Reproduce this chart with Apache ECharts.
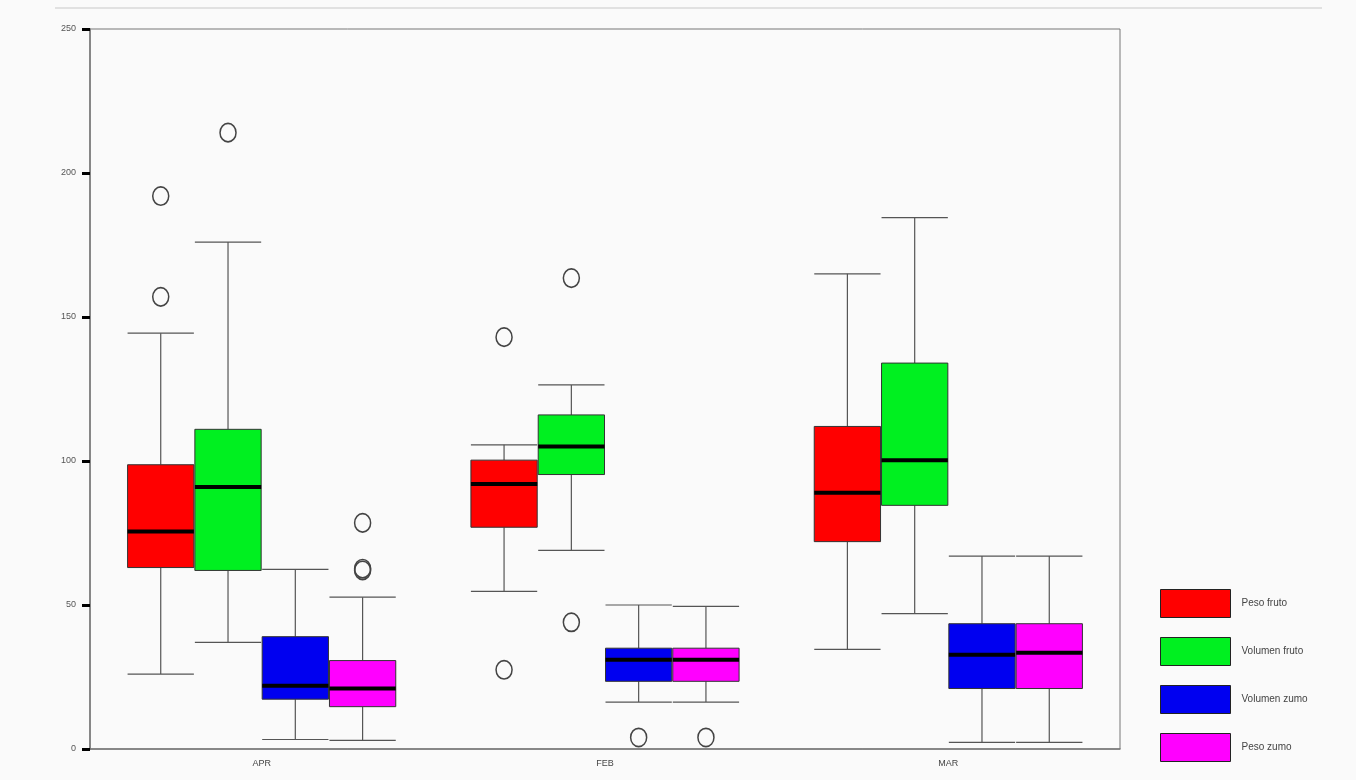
<!DOCTYPE html>
<html>
<head>
<meta charset="utf-8">
<script src="https://cdn.jsdelivr.net/npm/echarts@6/dist/echarts.min.js"></script>
<style>html,body{margin:0;padding:0;background:#fafafa}#c{width:1356px;height:780px}</style>
</head>
<body>
<div id="c"></div>
<script>
const categories = ['APR', 'FEB', 'MAR'];
const seriesNames = ['Peso fruto', 'Volumen fruto', 'Volumen zumo', 'Peso zumo'];
const seriesColors = ['#ff0000', '#00f020', '#0000f0', '#ff00ff'];
// [min, Q1, median, Q3, max]
const pesoFruto    = [[26, 63, 75.5, 98.7, 144.4], [54.7, 77, 92, 100.3, 105.6], [34.6, 72, 89, 112, 165]];
const volumenFruto = [[37, 62, 91, 111, 176], [69, 95.3, 105, 116, 126.4], [47, 84.6, 100.3, 134, 184.5]];
const volumenZumo  = [[3.3, 17.3, 22, 39, 62.4], [16.3, 23.5, 31, 35, 50], [2.3, 21, 32.7, 43.5, 67]];
const pesoZumo     = [[3, 14.7, 21, 30.7, 52.7], [16.3, 23.5, 31, 35, 49.5], [2.3, 21, 33.4, 43.5, 67]];
// outliers: [categoryIndex, value]
const pesoFrutoOut    = [[0, 192], [0, 157], [1, 143], [1, 27.5]];
const volumenFrutoOut = [[0, 214], [1, 163.5], [1, 44]];
const volumenZumoOut  = [[1, 4]];
const pesoZumoOut     = [[0, 78.5], [0, 62], [0, 62.6], [1, 4]];
const yTicks = [0, 50, 100, 150, 200, 250];

const boxData = [pesoFruto, volumenFruto, volumenZumo, pesoZumo];
const outData = [pesoFrutoOut, volumenFrutoOut, volumenZumoOut, pesoZumoOut];
const SLOT = 0.196;   // fraction of category band per box slot

function slotInfo(k, band) {
  const per = band * SLOT;
  return { off: -2 * per + per / 2 + k * per, w: per - 1 };
}

const series = [];
boxData.forEach((d, k) => {
  series.push({
    name: seriesNames[k],
    type: 'custom',
    data: d.map((b, i) => [i].concat(b)),
    encode: { x: 0, y: [1, 2, 3, 4, 5] },
    itemStyle: { color: seriesColors[k] },
    z: 2,
    silent: true,
    renderItem: function (params, api) {
      const band = api.size([1, 0])[0];
      const s = slotInfo(k, band);
      const c = api.value(0);
      const pMin = api.coord([c, api.value(1)]);
      const pQ1 = api.coord([c, api.value(2)]);
      const pMed = api.coord([c, api.value(3)]);
      const pQ3 = api.coord([c, api.value(4)]);
      const pMax = api.coord([c, api.value(5)]);
      const x = pMin[0] + s.off;
      const hw = s.w / 2;
      const capW = s.w * 0.5;
      const wl = { stroke: '#555', lineWidth: 1.2 };
      return {
        type: 'group',
        children: [
          { type: 'line', shape: { x1: x, y1: pMax[1], x2: x, y2: pQ3[1] }, style: wl },
          { type: 'line', shape: { x1: x, y1: pQ1[1], x2: x, y2: pMin[1] }, style: wl },
          { type: 'line', shape: { x1: x - capW, y1: pMax[1], x2: x + capW, y2: pMax[1] }, style: wl },
          { type: 'line', shape: { x1: x - capW, y1: pMin[1], x2: x + capW, y2: pMin[1] }, style: wl },
          { type: 'rect', shape: { x: x - hw, y: pQ3[1], width: s.w, height: pQ1[1] - pQ3[1] },
            style: { fill: seriesColors[k], stroke: '#333', lineWidth: 1 } },
          { type: 'line', shape: { x1: x - hw, y1: pMed[1], x2: x + hw, y2: pMed[1] },
            style: { stroke: '#000', lineWidth: 4 } }
        ]
      };
    }
  });
});
outData.forEach((d, k) => {
  series.push({
    name: 'out' + k,
    type: 'custom',
    data: d,
    encode: { x: 0, y: 1 },
    z: 5,
    silent: true,
    renderItem: function (params, api) {
      const p = api.coord([api.value(0), api.value(1)]);
      const band = api.size([1, 0])[0];
      const x = p[0] + slotInfo(k, band).off;
      return { type: 'circle', x: x, y: p[1], scaleY: 1.15, shape: { cx: 0, cy: 0, r: 8 },
               style: { fill: 'none', stroke: '#444', lineWidth: 1.5 } };
    }
  });
});

const chart = echarts.init(document.getElementById('c'));
chart.setOption({
  backgroundColor: '#fafafa',
  animation: false,
  graphic: [{ type: 'line', shape: { x1: 55, y1: 8, x2: 1322, y2: 8 }, style: { stroke: '#d8d8d8', lineWidth: 1.5 } }],
  legend: {
    data: seriesNames.map((n, i) => ({ name: n, itemStyle: { color: seriesColors[i], borderColor: '#222', borderWidth: 1 } })),
    orient: 'vertical',
    left: 1155,
    top: 584,
    itemWidth: 70,
    itemHeight: 28,
    itemGap: 19,
    icon: 'rect',
    textStyle: { fontSize: 10, color: '#444', fontFamily: 'Liberation Sans', padding: [6, 0, 0, 6] },
    selectedMode: false
  },
  grid: { left: 90, right: 236, top: 29, bottom: 31, show: true, borderColor: '#777', borderWidth: 1, backgroundColor: 'transparent' },
  xAxis: {
    type: 'category',
    data: categories,
    axisLine: { lineStyle: { color: '#777', width: 1.5 } },
    axisTick: { alignWithLabel: true, length: 7, lineStyle: { color: '#000', width: 3 } },
    axisLabel: { fontSize: 9, color: '#444', margin: 10, fontFamily: 'Liberation Sans' },
    splitLine: { show: false }
  },
  yAxis: {
    type: 'value',
    min: yTicks[0],
    max: yTicks[yTicks.length - 1],
    interval: yTicks[1] - yTicks[0],
    axisLine: { show: true, lineStyle: { color: '#777', width: 1.5 } },
    axisTick: { show: true, length: 8, lineStyle: { color: '#000', width: 3 } },
    axisLabel: { fontSize: 9, color: '#555', margin: 14, fontFamily: 'Liberation Sans' },
    splitLine: { show: false }
  },
  series: series
});
</script>
</body>
</html>
